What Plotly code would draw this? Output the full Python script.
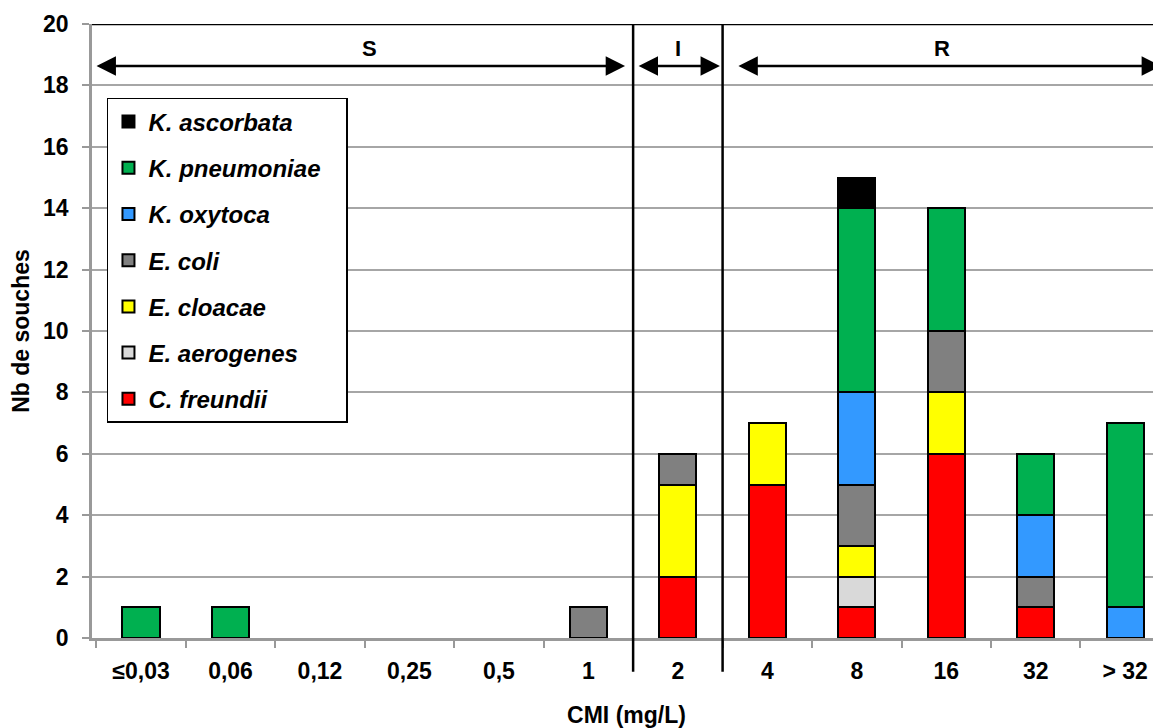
import plotly.graph_objects as go

categories = ["≤0,03", "0,06", "0,12", "0,25", "0,5", "1", "2", "4", "8", "16", "32", "> 32"]

c_freundii   = [0, 0, 0, 0, 0, 0, 2, 5, 1, 6, 1, 0]
e_aerogenes  = [0, 0, 0, 0, 0, 0, 0, 0, 1, 0, 0, 0]
e_cloacae    = [0, 0, 0, 0, 0, 0, 3, 2, 1, 2, 0, 0]
e_coli       = [0, 0, 0, 0, 0, 1, 1, 0, 2, 2, 1, 0]
k_oxytoca    = [0, 0, 0, 0, 0, 0, 0, 0, 3, 0, 2, 1]
k_pneumoniae = [1, 1, 0, 0, 0, 0, 0, 0, 6, 4, 2, 6]
k_ascorbata  = [0, 0, 0, 0, 0, 0, 0, 0, 1, 0, 0, 0]

series = [
    ("C. freundii", c_freundii, "#FF0000"),
    ("E. aerogenes", e_aerogenes, "#D9D9D9"),
    ("E. cloacae", e_cloacae, "#FFFF00"),
    ("E. coli", e_coli, "#808080"),
    ("K. oxytoca", k_oxytoca, "#3399FF"),
    ("K. pneumoniae", k_pneumoniae, "#00B050"),
    ("K. ascorbata", k_ascorbata, "#000000"),
]

# zone label, arrow start, arrow end, label x
zones = [("S", -0.514, 5.41, 2.55), ("I", 5.545, 6.47, 6.0), ("R", 6.66, 11.40, 8.95)]
zone_lines = [5.5, 6.5]

FONT = "Liberation Sans"
PAD = "\u00a0\u00a0\u00a0"  # invisible padding to widen the legend box

fig = go.Figure()
n = len(series)
for i, (name, vals, col) in enumerate(series):
    fig.add_trace(go.Bar(
        x=categories, y=[v if v else None for v in vals], name=name + PAD,
        legendgroup=name, legendrank=n - i,
        marker=dict(color=col, line=dict(color="black", width=2)),
        width=0.415,
    ))

for xl in zone_lines:
    fig.add_shape(type="line", xref="x", yref="paper", x0=xl, x1=xl, y0=-0.055, y1=1,
                  line=dict(color="black", width=2.5))
fig.add_shape(type="line", xref="paper", yref="y", x0=0, x1=1, y0=20, y1=20,
              line=dict(color="black", width=2.5))

for lab, xa, xb, xc in zones:
    fig.add_annotation(x=xb, y=18.63, ax=xa, ay=18.63, xref="x", yref="y", axref="x", ayref="y",
                       text="", showarrow=True, arrowhead=2, arrowside="end+start",
                       arrowsize=1.55, arrowwidth=2.5, arrowcolor="black", standoff=0, startstandoff=0)
    fig.add_annotation(x=xc, y=19.2, xref="x", yref="y", text=lab, showarrow=False,
                       font=dict(family=FONT, size=22, color="black", weight="bold"))

fig.update_layout(
    width=1153, height=720,
    margin=dict(l=84, r=0, t=16, b=90),
    plot_bgcolor="white", paper_bgcolor="white",
    barmode="stack",
    font=dict(family=FONT, size=23, color="black", weight="bold"),
    legend=dict(
        x=0.014, y=0.8795, xanchor="left", yanchor="top",
        bordercolor="black", borderwidth=1.5, bgcolor="white",
        traceorder="grouped", tracegroupgap=12,
        font=dict(family=FONT, size=24, color="black", weight="bold", style="italic"),
    ),
    xaxis=dict(
        type="category", range=[-0.548, 11.40], tickson="boundaries",
        ticks="outside", ticklen=7, tickcolor="#999999", tickwidth=2,
        showline=True, linecolor="#999999", linewidth=2.5, showgrid=False,
        ticklabelstandoff=11,
        tickfont=dict(family=FONT, size=23, weight="bold"),
        title=dict(text="CMI (mg/L)", standoff=24,
                   font=dict(family=FONT, size=23, weight="bold")),
    ),
    yaxis=dict(
        range=[0, 20], dtick=2, tick0=0,
        ticks="outside", ticklen=7, tickcolor="#999999", tickwidth=2,
        showline=True, linecolor="#999999", linewidth=2.5,
        showgrid=True, gridcolor="#A6A6A6", gridwidth=2, zeroline=False,
        ticklabelstandoff=9,
        tickfont=dict(family=FONT, size=23, weight="bold"),
        title=dict(text="Nb de souches", standoff=12,
                   font=dict(family=FONT, size=23, weight="bold")),
    ),
)

fig.write_html("out.html")
